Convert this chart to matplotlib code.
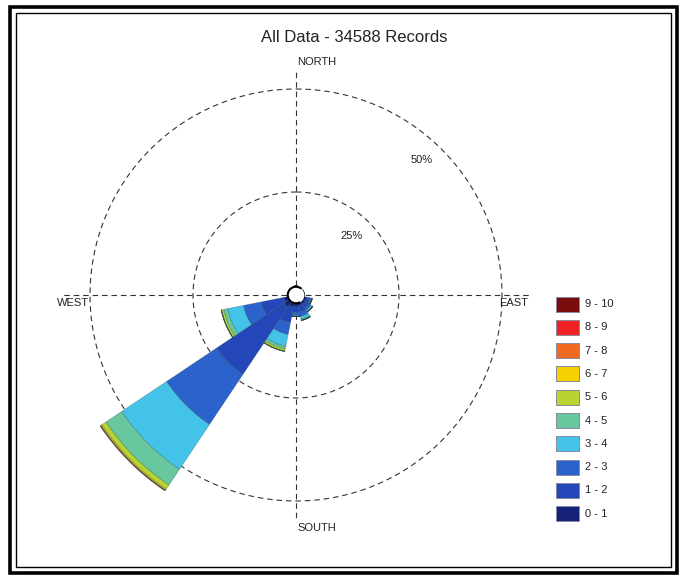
import numpy as np
import matplotlib
matplotlib.use("Agg")
import matplotlib.pyplot as plt
from matplotlib.patches import Rectangle, Arc, Circle

plt.rcParams['font.family'] = ['Liberation Sans', 'DejaVu Sans']

# ---------------- data ----------------
title = "All Data - 34588 Records"
directions = ["N", "NNE", "NE", "ENE", "E", "ESE", "SE", "SSE",
              "S", "SSW", "SW", "WSW", "W", "WNW", "NW", "NNW"]
dir_deg = [0, 22.5, 45, 67.5, 90, 112.5, 135, 157.5,
           180, 202.5, 225, 247.5, 270, 292.5, 315, 337.5]
speed_bins = ["0 - 1", "1 - 2", "2 - 3", "3 - 4", "4 - 5",
              "5 - 6", "6 - 7", "7 - 8", "8 - 9", "9 - 10"]
bin_colors = ["#16217a", "#2347b9", "#2b62cc", "#43c3e9", "#68c79f",
              "#b7d433", "#f6d000", "#f06a22", "#ee2222", "#7a0c0c"]
calm_pct = 2.0   # radius of the calm circle (%)
# frequency (%) of each speed bin per direction
freq = {
    "N":   [0.2, 0.0, 0.0, 0.0, 0.0, 0.0, 0.0, 0.0, 0.0, 0.0],
    "NNE": [0.0, 0.0, 0.0, 0.0, 0.0, 0.0, 0.0, 0.0, 0.0, 0.0],
    "NE":  [0.0, 0.0, 0.0, 0.0, 0.0, 0.0, 0.0, 0.0, 0.0, 0.0],
    "ENE": [0.0, 0.0, 0.0, 0.0, 0.0, 0.0, 0.0, 0.0, 0.0, 0.0],
    "E":   [0.1, 0.0, 0.0, 0.0, 0.0, 0.0, 0.0, 0.0, 0.0, 0.0],
    "ESE": [0.7, 0.7, 0.4, 0.2, 0.0, 0.0, 0.0, 0.0, 0.0, 0.0],
    "SE":  [0.7, 1.0, 0.7, 0.4, 0.1, 0.0, 0.0, 0.0, 0.0, 0.0],
    "SSE": [0.7, 1.5, 1.1, 0.7, 0.2, 0.1, 0.0, 0.0, 0.0, 0.0],
    "S":   [0.8, 1.5, 0.7, 0.2, 0.0, 0.0, 0.0, 0.0, 0.0, 0.0],
    "SSW": [1.0, 3.9, 2.9, 2.9, 0.7, 0.5, 0.05, 0.0, 0.0, 0.0],
    "SW":  [1.5, 19.7, 14.6, 13.1, 4.6, 1.2, 0.25, 0.12, 0.07, 0.05],
    "WSW": [1.0, 5.6, 4.4, 3.9, 1.0, 0.5, 0.07, 0.03, 0.0, 0.0],
    "W":   [0.1, 0.0, 0.0, 0.0, 0.0, 0.0, 0.0, 0.0, 0.0, 0.0],
    "WNW": [0.0, 0.0, 0.0, 0.0, 0.0, 0.0, 0.0, 0.0, 0.0, 0.0],
    "NW":  [0.0, 0.0, 0.0, 0.0, 0.0, 0.0, 0.0, 0.0, 0.0, 0.0],
    "NNW": [0.0, 0.0, 0.0, 0.0, 0.0, 0.0, 0.0, 0.0, 0.0, 0.0],
}
ring_values = [25, 50]
ring_labels = ["25%", "50%"]

# ---------------- layout ----------------
W, H = 683, 580
fig = plt.figure(figsize=(W / 100, H / 100), dpi=100)
fig.patch.set_facecolor("white")

cx, cy = 296, 295          # centre in pixels (from top)
px_per_pct = 206 / 50.0
rmax = 60.0
rad_px = rmax * px_per_pct
ax = fig.add_axes([(cx - rad_px) / W, (H - cy - rad_px) / H,
                   2 * rad_px / W, 2 * rad_px / H], projection="polar")
ax.set_theta_zero_location("N")
ax.set_theta_direction(-1)
ax.set_ylim(0, rmax)
ax.axis("off")

width = np.deg2rad(22.5)
theta = np.deg2rad(dir_deg)
bottom = np.full(len(directions), calm_pct)
for k, (lab, col) in enumerate(zip(speed_bins, bin_colors)):
    vals = np.array([freq[d][k] for d in directions])
    ax.bar(theta, vals, width=width, bottom=bottom, color=col,
           edgecolor=(0.1, 0.25, 0.2, 0.35), linewidth=0.5, zorder=3)
    bottom = bottom + vals

# dashed rings
tt = np.linspace(0, 2 * np.pi, 400)
for rv in ring_values:
    ax.plot(tt, np.full_like(tt, rv), color="#333333", lw=0.8,
            ls=(0, (5, 3.5)), zorder=2)
# cross-hair axes
for ang, length in [(0, 54.3), (90, 57.0), (180, 54.8), (270, 57.2)]:
    ax.plot([np.deg2rad(ang)] * 2, [0, length], color="#333333", lw=0.8,
            ls=(0, (5, 3.5)), zorder=2, clip_on=False)

# calm circle
calm = Circle((0.5, 0.5), calm_pct / rmax / 2, transform=ax.transAxes,
              facecolor="white", edgecolor="none", zorder=5)
ax.add_patch(calm)
arc = Arc((0.5, 0.5), calm_pct / rmax, calm_pct / rmax, transform=ax.transAxes,
          theta1=50, theta2=300, color="black", lw=1.5, zorder=6)
ax.add_patch(arc)

# ring labels
for rv, rl in zip(ring_values, ring_labels):
    ax.text(np.deg2rad(43), rv - 5.3, rl, fontsize=8, ha="center", va="center",
            color="#222222", zorder=7)

def fx(x):
    return x / W

def fy(y):
    return 1 - y / H

fig.text(fx(354), fy(37), title, fontsize=12, ha="center", va="center",
         color="#222222")
fig.text(fx(297), fy(62), "NORTH", fontsize=8, ha="left", va="center", color="#222222")
fig.text(fx(499), fy(303), "EAST", fontsize=8, ha="left", va="center", color="#222222")
fig.text(fx(297), fy(528), "SOUTH", fontsize=8, ha="left", va="center", color="#222222")
fig.text(fx(57), fy(303), "WEST", fontsize=8, ha="left", va="center", color="#222222")

# legend
for i, (lab, col) in enumerate(zip(speed_bins[::-1], bin_colors[::-1])):
    yc = 304 + i * 23.3
    fig.add_artist(Rectangle((fx(556), fy(yc + 7.5)), 23 / W, 15 / H,
                             transform=fig.transFigure, facecolor=col,
                             edgecolor="#8a8aa0", lw=0.7))
    fig.text(fx(585), fy(yc), lab, fontsize=8, ha="left", va="center",
             color="#222222")

# double frame
fig.add_artist(Rectangle((fx(10), fy(573)), 667 / W, 566 / H,
                         transform=fig.transFigure, fill=False,
                         edgecolor="black", lw=2.6))
fig.add_artist(Rectangle((fx(16), fy(567)), 655 / W, 554 / H,
                         transform=fig.transFigure, fill=False,
                         edgecolor="black", lw=1.0))

fig.savefig("out.png", dpi=100, facecolor="white")
